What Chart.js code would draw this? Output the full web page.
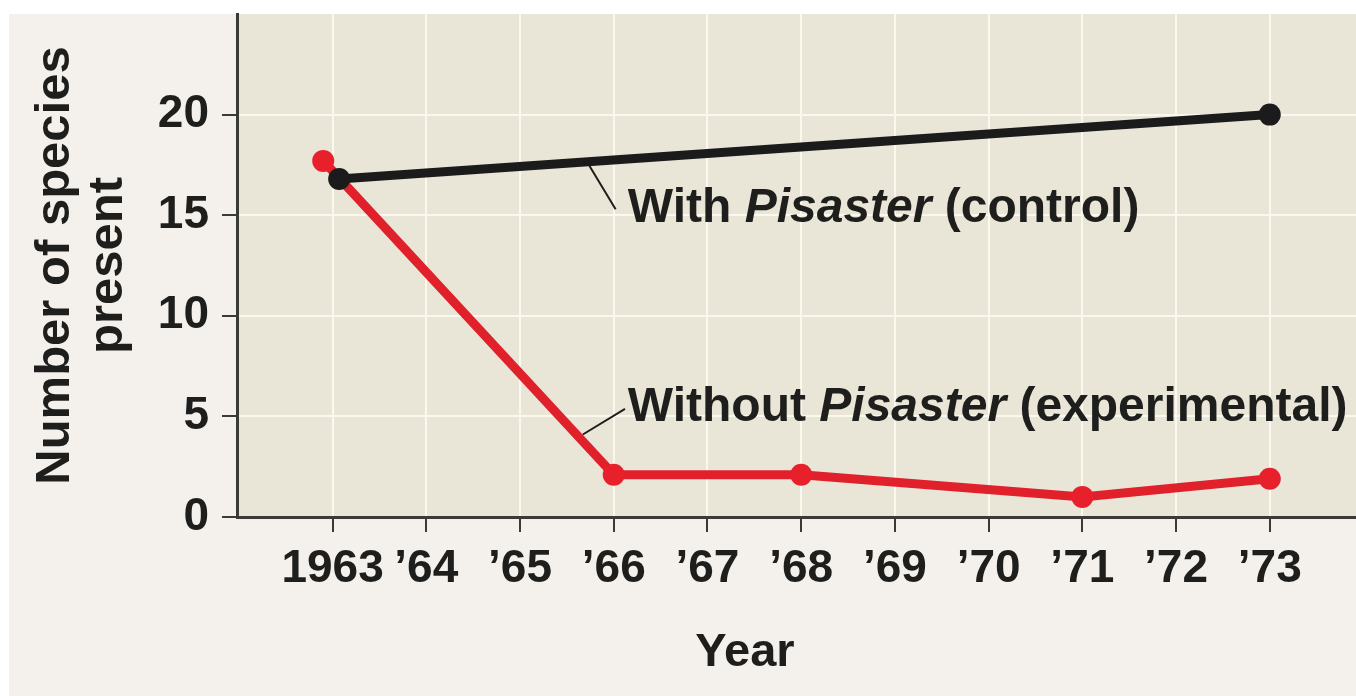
<!DOCTYPE html>
<html>
<head>
<meta charset="utf-8">
<title>Number of species present</title>
<script src="https://cdn.jsdelivr.net/npm/chart.js@4/dist/chart.umd.min.js"></script>
<style>
  html, body { margin: 0; padding: 0; background: #ffffff; }
  #wrap { width: 1356px; height: 696px; }
</style>
</head>
<body>
<div id="wrap"><canvas id="speciesChart" width="1356" height="696"></canvas></div>
<script>
// tick years and their labels
var years = [1963, 1964, 1965, 1966, 1967, 1968, 1969, 1970, 1971, 1972, 1973];
var yearLabels = ['1963', '\u201964', '\u201965', '\u201966', '\u201967', '\u201968', '\u201969', '\u201970', '\u201971', '\u201972', '\u201973'];
var speciesTicks = [0, 5, 10, 15, 20];

// with Pisaster (control)
var controlYears = [1963.07, 1973];
var controlSpecies = [16.8, 20];

// without Pisaster (experimental)
var removalYears = [1962.9, 1966, 1968, 1971, 1973];
var removalSpecies = [17.7, 2.1, 2.1, 1.0, 1.9];

var FONT = "'Liberation Sans', Arial, Helvetica, sans-serif";
var INK = '#1e1e1c';
var AXIS = '#3b3b36';
var GRID = '#fbf9ef';

function toPoints(xs, ys) {
  return xs.map(function (x, i) { return { x: x, y: ys[i] }; });
}

// page background, plot background, leader lines, labels
var decorPlugin = {
  id: 'decor',
  beforeDraw: function (chart) {
    var ctx = chart.ctx, a = chart.chartArea;
    ctx.save();
    ctx.fillStyle = '#ffffff';
    ctx.fillRect(0, 0, chart.width, chart.height);
    ctx.fillStyle = '#f4f1ec';
    ctx.fillRect(9, 14, chart.width - 9, chart.height - 14);
    ctx.fillStyle = '#e9e6d8';
    ctx.fillRect(a.left, a.top, a.right - a.left, a.bottom - a.top);
    ctx.restore();
  },
  afterDraw: function (chart) {
    var ctx = chart.ctx, xs = chart.scales.x, ys = chart.scales.y;
    ctx.save();
    // leader lines
    ctx.strokeStyle = INK;
    ctx.lineWidth = 2;
    ctx.beginPath();
    ctx.moveTo(xs.getPixelForValue(1965.74), ys.getPixelForValue(17.46));
    ctx.lineTo(xs.getPixelForValue(1966.02), ys.getPixelForValue(15.3));
    ctx.moveTo(xs.getPixelForValue(1965.67), ys.getPixelForValue(4.1));
    ctx.lineTo(xs.getPixelForValue(1966.12), ys.getPixelForValue(5.37));
    ctx.stroke();

    // mixed roman / italic labels
    function label(parts, x, y) {
      ctx.fillStyle = INK;
      ctx.textBaseline = 'alphabetic';
      ctx.textAlign = 'left';
      parts.forEach(function (p) {
        ctx.font = (p.italic ? 'italic ' : '') + 'bold 48px ' + FONT;
        ctx.fillText(p.t, x, y);
        x += ctx.measureText(p.t).width;
      });
    }
    label([{ t: 'With ' }, { t: 'Pisaster', italic: true }, { t: ' (control)' }],
      xs.getPixelForValue(1966.15), ys.getPixelForValue(14.68));
    label([{ t: 'Without ' }, { t: 'Pisaster', italic: true }, { t: ' (experimental)' }],
      xs.getPixelForValue(1966.15), ys.getPixelForValue(4.78));

    // x axis title
    ctx.font = 'bold 47px ' + FONT;
    ctx.textAlign = 'center';
    ctx.fillText('Year', xs.getPixelForValue(1967.4), chart.height - 30);
    ctx.restore();
  }
};

var ctx = document.getElementById('speciesChart').getContext('2d');
var speciesChart = new Chart(ctx, {
  type: 'line',
  data: {
    datasets: [{
      label: 'With Pisaster (control)',
      data: toPoints(controlYears, controlSpecies),
      borderColor: '#1b1b1b',
      backgroundColor: '#1b1b1b',
      borderWidth: 9,
      pointRadius: 11,
      pointBorderWidth: 0,
      tension: 0,
      order: 1
    }, {
      label: 'Without Pisaster (experimental)',
      data: toPoints(removalYears, removalSpecies),
      borderColor: '#e0202b',
      backgroundColor: '#e8202c',
      borderWidth: 9,
      pointRadius: 11,
      pointBorderWidth: 0,
      tension: 0,
      order: 2
    }]
  },
  options: {
    responsive: false,
    devicePixelRatio: 1,
    animation: false,
    layout: { autoPadding: false, padding: { top: 14, left: 0, right: 0, bottom: 0 } },
    plugins: {
      legend: { display: false },
      tooltip: { enabled: false }
    },
    scales: {
      x: {
        type: 'linear',
        min: 1961.98,
        max: 1973.92,
        afterBuildTicks: function (s) {
          s.ticks = years.map(function (v) { return { value: v }; });
        },
        afterFit: function (s) {
          s.height = 179;
          s.paddingLeft = 0;
          s.paddingRight = 0;
        },
        ticks: {
          callback: function (v, i) { return yearLabels[i]; },
          font: { family: FONT, size: 46, weight: 'bold' },
          color: INK,
          padding: 10,
          maxRotation: 0,
          autoSkip: false
        },
        grid: { color: GRID, lineWidth: 2, tickColor: AXIS, tickLength: 15, tickWidth: 2 },
        border: { color: AXIS, width: 3 }
      },
      y: {
        min: 0,
        max: 25,
        afterBuildTicks: function (s) {
          s.ticks = speciesTicks.map(function (v) { return { value: v }; });
        },
        afterFit: function (s) {
          s.width = 237;
          s.paddingTop = 0;
          s.paddingBottom = 0;
        },
        ticks: {
          font: { family: FONT, size: 46, weight: 'bold' },
          color: INK,
          padding: 13
        },
        grid: { color: GRID, lineWidth: 2, tickColor: AXIS, tickLength: 15, tickWidth: 2 },
        border: { color: AXIS, width: 3 },
        title: {
          display: true,
          text: ['Number of species', 'present'],
          font: { family: FONT, size: 49, weight: 'bold', lineHeight: 1.08 },
          color: INK,
          padding: { top: 29, bottom: 0 }
        }
      }
    }
  },
  plugins: [decorPlugin]
});
</script>
</body>
</html>
